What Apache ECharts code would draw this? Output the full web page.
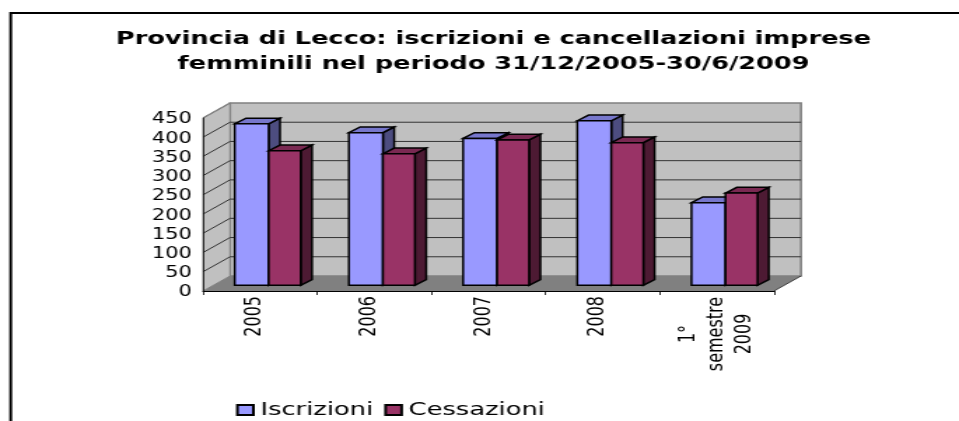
<!DOCTYPE html>
<html>
<head>
<meta charset="utf-8">
<style>
html,body{margin:0;padding:0;background:#fff;overflow:hidden;width:959px;height:421px}
#wrap{width:959px;height:421px;overflow:hidden}
#chart{height:421px;transform-origin:0 0}
</style>
<script src="https://cdn.jsdelivr.net/npm/echarts@6/dist/echarts.min.js"></script>
</head>
<body>
<div id="wrap"><div id="chart"></div></div>
<script>
const categories = ['2005', '2006', '2007', '2008', '1°\nsemestre\n2009'];
const iscrizioni = [420, 397, 382, 428, 215];
const cessazioni = [350, 342, 378, 371, 240];
const yTicks = [50, 100, 150, 200, 250, 300, 350, 400];
const titleText = 'Provincia di Lecco: iscrizioni e cancellazioni imprese\nfemminili nel periodo 31/12/2005-30/6/2009';

// The reference is a horizontally stretched picture: lay out narrow, stretch with CSS.
const S = 1.4;
const W = 959 / S;
const el = document.getElementById('chart');
el.style.width = W + 'px';
el.style.transform = 'scaleX(' + S + ')';

const X = v => v / S;
const WALL_DX = X(27), WALL_DY = -15;
const BAR_DX = X(11.3), BAR_DY = -5.7;

function poly(points, fill, stroke, lw) {
  return {type: 'polygon', shape: {points}, style: {fill, stroke: stroke || null, lineWidth: lw || 0}};
}
function seg(x1, y1, x2, y2, stroke, lw) {
  return {type: 'line', shape: {x1, y1, x2, y2}, style: {stroke, lineWidth: lw, fill: null}};
}

function renderWalls(params, api) {
  const c = params.coordSys;
  const l = c.x, r = c.x + c.width, t = c.y, b = c.y + c.height;
  const d = WALL_DX, e = WALL_DY;
  return {type: 'group', children: [
    poly([[l + d, t + e], [r + d, t + e], [r + d, b + e], [l + d, b + e]], '#c0c0c0', '#808080', 1.6),
    poly([[l, t], [l + d, t + e], [l + d, b + e], [l, b]], '#c0c0c0', '#808080', 1),
    poly([[l, b], [l + d, b + e], [r + d, b + e], [r, b]], '#808080', null, 0),
    seg(l, t, l + d, t + e, '#808080', 1.2),
    seg(r, b, r + d, b + e, '#222222', 0.8)
  ]};
}

function renderGrid(params, api) {
  const c = params.coordSys;
  const p = api.coord([0, api.value(1)]);
  const y = p[1], l = c.x, r = c.x + c.width;
  return {type: 'group', children: [
    seg(l, y, l + WALL_DX, y + WALL_DY, '#222222', 0.9),
    seg(l + WALL_DX, y + WALL_DY, r + WALL_DX, y + WALL_DY, '#333333', 1)
  ]};
}

function barRenderer(offL, offR, front, top, side) {
  return function (params, api) {
    const base = api.coord([api.value(0), 0]);
    const head = api.coord([api.value(0), api.value(1)]);
    const x0 = base[0] + X(offL), x1 = base[0] + X(offR);
    const yb = base[1] + BAR_DY, yt = head[1] + BAR_DY;
    const dx = BAR_DX, dy = BAR_DY;
    return {type: 'group', children: [
      poly([[x1, yt], [x1 + dx, yt + dy], [x1 + dx, yb + dy], [x1, yb]], side, '#000', 1.5),
      poly([[x0, yt], [x0 + dx, yt + dy], [x1 + dx, yt + dy], [x1, yt]], top, '#000', 1.5),
      poly([[x0, yt], [x1, yt], [x1, yb], [x0, yb]], front, '#000', 1.5)
    ]};
  };
}

const catData = categories.map(c => c.indexOf('\n') < 0 ? c : {
  value: c,
  textStyle: {align: 'center', verticalAlign: 'middle', lineHeight: 20, padding: [0, 76, 0, 0]}
});

const chart = echarts.init(el, null, {renderer: 'canvas'});
chart.setOption({
  animation: false,
  backgroundColor: '#fff',
  title: {
    text: titleText,
    left: X(486.5),
    top: 22,
    textAlign: 'center',
    textStyle: {fontFamily: 'DejaVu Sans', fontWeight: 'bold', fontSize: 18.3, lineHeight: 25, color: '#000'}
  },
  legend: {
    data: ['Iscrizioni', 'Cessazioni'],
    left: X(236),
    top: 401,
    padding: 0,
    icon: 'rect',
    itemWidth: X(16),
    itemHeight: 10,
    itemGap: X(11),
    textStyle: {fontFamily: 'DejaVu Sans', fontSize: 18.4, color: '#000'}
  },
  grid: {left: X(203), width: X(571), top: 118, height: 173, containLabel: false},
  xAxis: {
    type: 'category',
    data: catData,
    z: 5,
    axisLine: {show: true, lineStyle: {color: '#000', width: 1.2}},
    axisTick: {show: true, alignWithLabel: false, length: 4, lineStyle: {color: '#000', width: 0.8}},
    axisLabel: {interval: 0, rotate: 90, margin: 5, fontFamily: 'DejaVu Sans', fontSize: 16, color: '#000', hideOverlap: false, verticalAlign: 'top', padding: [-11.5, 0, 0, 0]}
  },
  yAxis: {
    type: 'value',
    min: 0,
    max: 450,
    interval: 50,
    z: 5,
    axisLine: {show: true, lineStyle: {color: '#000', width: 0.8}},
    axisTick: {show: false},
    splitLine: {show: false},
    axisLabel: {margin: X(11), fontFamily: 'DejaVu Sans', fontSize: 15, color: '#000', verticalAlign: 'top', padding: [-6, 0, 0, 0]}
  },
  graphic: [{
    type: 'polyline',
    silent: true,
    shape: {points: [[X(10.7), 421], [X(10.7), 13], [W, 13]]},
    style: {stroke: '#000', lineWidth: 2, fill: null}
  }],
  series: [
    {type: 'custom', name: 'walls', silent: true, clip: false, data: [[0, 0]], renderItem: renderWalls, encode: {x: 0, y: 1}},
    {type: 'custom', name: 'griglia', silent: true, clip: false, data: yTicks.map(t => [0, t]), renderItem: renderGrid, encode: {x: 0, y: 1}},
    {
      type: 'custom', name: 'Iscrizioni', clip: false,
      itemStyle: {color: '#9999ff', borderColor: '#000', borderWidth: 1},
      data: iscrizioni.map((v, i) => [i, v]),
      renderItem: barRenderer(-25.4, 8.6, '#9999ff', '#7777cc', '#4d4d80'),
      encode: {x: 0, y: 1}
    },
    {
      type: 'custom', name: 'Cessazioni', clip: false,
      itemStyle: {color: '#993366', borderColor: '#000', borderWidth: 1},
      data: cessazioni.map((v, i) => [i, v]),
      renderItem: barRenderer(8.6, 40.6, '#993366', '#7a2952', '#4d1a33'),
      encode: {x: 0, y: 1}
    }
  ]
});
</script>
</body>
</html>
